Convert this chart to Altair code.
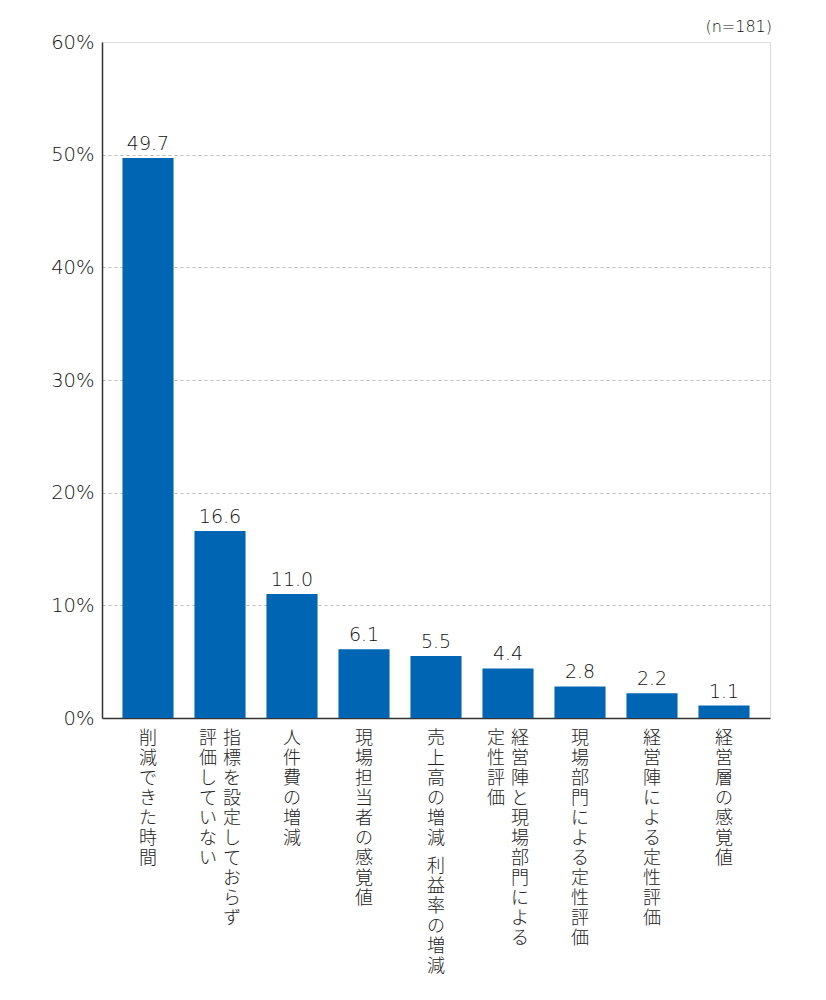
import altair as alt
import pandas as pd

categories = ["削減できた時間", "指標を設定しておらず評価していない", "人件費の増減", "現場担当者の感覚値",
              "売上高の増減　利益率の増減", "経営陣と現場部門による定性評価", "現場部門による定性評価",
              "経営陣による定性評価", "経営層の感覚値"]
values = [49.7, 16.6, 11.0, 6.1, 5.5, 4.4, 2.8, 2.2, 1.1]
# vertical label columns: first column (right), second column (left, may be empty)
label_col1 = ["削減できた時間", "指標を設定しておらず", "人件費の増減", "現場担当者の感覚値",
              "売上高の増減　利益率の増減", "経営陣と現場部門による", "現場部門による定性評価",
              "経営陣による定性評価", "経営層の感覚値"]
label_col2 = ["", "評価していない", "", "", "", "定性評価", "", "", ""]
y_ticks = [0, 10, 20, 30, 40, 50, 60]
note = "(n=181)"

W, H = 668, 676
FONT = "Noto Sans CJK JP"
NUMFONT = "DejaVu Sans"
LH = 20.0      # vertical pitch of stacked characters
TOP = H + 12   # top of vertical labels
SPACE_GAP = 8  # extra gap for the full-width space


def vert(s):
    return "\n".join(list(s))


seg_a, seg_b, seg_b_y = [], [], []
for s in label_col1:
    parts = s.split("\u3000")
    seg_a.append(vert(parts[0]))
    seg_b.append(vert(parts[1]) if len(parts) > 1 else "")
    seg_b_y.append(TOP + len(parts[0]) * LH + SPACE_GAP)

df = pd.DataFrame({"cat": categories, "v": values,
                   "a": seg_a, "b": seg_b, "by": seg_b_y,
                   "c2": [vert(s) for s in label_col2],
                   "two": [len(s) > 0 for s in label_col2],
                   "hasb": [len(s) > 0 for s in seg_b]})

x = alt.X("cat:N", sort=categories,
          scale=alt.Scale(paddingInner=0.29, paddingOuter=0.284),
          axis=alt.Axis(labels=False, ticks=False, title=None, domainColor="#333", domainWidth=1.5))
y = alt.Y("v:Q", scale=alt.Scale(domain=[0, 60], nice=False),
          axis=alt.Axis(values=y_ticks, labelExpr="datum.value + '%'", title=None, ticks=False,
                        domainColor="#333", domainWidth=1.5, gridColor="#bbb", gridDash=[3, 3],
                        gridOpacity={"condition": {"test": "datum.value === 60 || datum.value === 0",
                                                   "value": 0}, "value": 1},
                        labelFontSize=19.5, labelColor="#111", labelFont=NUMFONT, labelFontWeight=200,
                        labelPadding=8))

base = alt.Chart(df)
bars = base.mark_bar(color="#0066b3").encode(x=x, y=y)
vals = base.mark_text(baseline="bottom", dy=-4, fontSize=19, font=NUMFONT, fontWeight=200,
                      color="#111").encode(x=x, y=y, text=alt.Text("v:Q", format=".1f"))

lab_kw = dict(baseline="top", align="center", fontSize=18, font=FONT, fontWeight=300,
              color="#222", lineBreak="\n", lineHeight=LH)
lab_single = base.transform_filter("!datum.two").mark_text(**lab_kw).encode(
    x=x, y=alt.value(TOP), text="a:N")
lab_single_b = base.transform_filter("datum.hasb").mark_text(**lab_kw).encode(
    x=x, y=alt.Y("by:Q", scale=None), text="b:N")
lab_right = base.transform_filter("datum.two").mark_text(dx=12, **lab_kw).encode(
    x=x, y=alt.value(TOP), text="a:N")
lab_left = base.transform_filter("datum.two").mark_text(dx=-12, **lab_kw).encode(
    x=x, y=alt.value(TOP), text="c2:N")

note_df = pd.DataFrame({"t": [note]})
note_txt = alt.Chart(note_df).mark_text(align="right", baseline="middle", fontSize=16, font=NUMFONT,
                                        fontWeight=200, color="#111").encode(
    x=alt.value(W + 2), y=alt.value(-15), text="t:N")

chart = alt.layer(bars, vals, lab_single, lab_single_b, lab_right, lab_left, note_txt).properties(
    width=W, height=H,
    autosize=alt.AutoSizeParams(type="none"),
    padding={"left": 94, "top": 34, "right": 48, "bottom": 270},
).configure_view(stroke="#666", strokeWidth=1.5).configure(background="white")

chart.save("out.html", embed_options={"renderer": "svg", "actions": False})
